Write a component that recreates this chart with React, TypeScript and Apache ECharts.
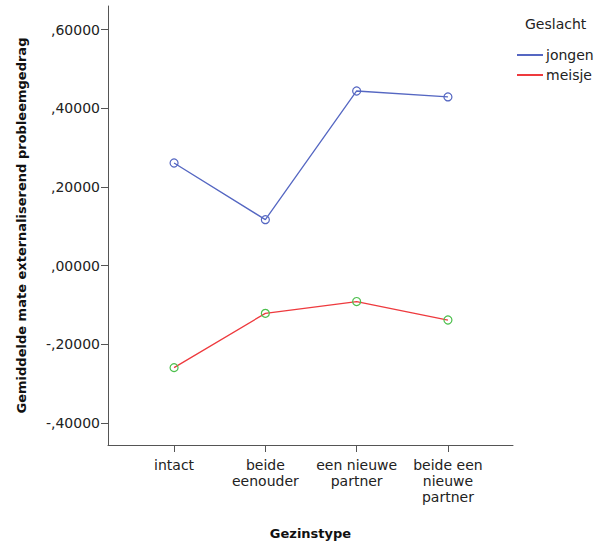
import React, { useEffect, useRef } from "react";
import * as echarts from "echarts";

const categories = ["intact", "beide\neenouder", "een nieuwe\npartner", "beide een\nnieuwe\npartner"];
const jongen = [0.261, 0.117, 0.444, 0.429];
const meisje = [-0.259, -0.121, -0.091, -0.138];
const yTicks = [-0.4, -0.2, 0, 0.2, 0.4, 0.6];
const xTicks = [0, 1, 2, 3];

const FONT = "'DejaVu Sans', sans-serif";
const BLUE = "#5567c2";
const RED = "#ee3a3e";
const GREEN = "#4cbf4c";

function fmt(v: number): string {
  const s = Math.abs(v).toFixed(5).replace(/^0/, "").replace(".", ",");
  return (v < -1e-9 ? "-" : "") + s;
}

export default function App() {
  const ref = useRef<HTMLDivElement>(null);
  useEffect(() => {
    if (!ref.current) return;
    const chart = echarts.init(ref.current, undefined, { renderer: "svg" });
    chart.setOption({
      animation: false,
      backgroundColor: "#ffffff",
      textStyle: { fontFamily: FONT },
      grid: { left: 108, right: 89, top: 6, bottom: 96, containLabel: false, outerBoundsMode: "none" },
      title: {
        text: "Geslacht",
        left: 520,
        top: 12,
        textStyle: { fontFamily: FONT, fontSize: 14, fontWeight: "normal", color: "#222" },
      },
      legend: {
        left: 512,
        top: 43,
        orient: "vertical",
        itemWidth: 26,
        itemHeight: 2,
        itemGap: 6,
        textStyle: { fontFamily: FONT, fontSize: 14, color: "#222", padding: [0, 0, 0, -2] },
        data: [
          { name: "jongen", icon: "rect", itemStyle: { color: BLUE, borderWidth: 0 } },
          { name: "meisje", icon: "rect", itemStyle: { color: RED, borderWidth: 0 } },
        ],
      },
      xAxis: {
        type: "value",
        min: -66 / 91.2,
        max: 3 + 65 / 91.2,
        name: "Gezinstype",
        nameLocation: "middle",
        nameGap: 82,
        nameTextStyle: { fontFamily: FONT, fontSize: 13, fontWeight: "bold", color: "#111" },
        splitLine: { show: false },
        axisLine: { show: true, onZero: false, lineStyle: { color: "#555", width: 1 } },
        axisTick: { show: true, length: 7, customValues: xTicks, lineStyle: { color: "#555" } },
        axisLabel: {
          customValues: xTicks,
          margin: 12,
          fontFamily: FONT,
          fontSize: 14,
          lineHeight: 16,
          color: "#222",
          formatter: (v: number) => categories[Math.round(v)] ?? "",
        },
      },
      yAxis: {
        type: "value",
        min: -0.4556,
        max: 0.66,
        name: "Gemiddelde mate externaliserend probleemgedrag",
        nameLocation: "middle",
        nameGap: 80,
        nameTextStyle: { fontFamily: FONT, fontSize: 13, fontWeight: "bold", color: "#111" },
        splitLine: { show: false },
        axisLine: { show: true, onZero: false, lineStyle: { color: "#555", width: 1 } },
        axisTick: { show: true, length: 7, customValues: yTicks, lineStyle: { color: "#555" } },
        axisLabel: {
          customValues: yTicks,
          margin: 8,
          fontFamily: FONT,
          fontSize: 14,
          color: "#222",
          formatter: (v: number) => fmt(v),
        },
      },
      series: [
        {
          name: "jongen",
          type: "line",
          data: jongen.map((v, i) => [i, v]),
          symbol: "circle",
          symbolSize: 8,
          lineStyle: { color: BLUE, width: 1.3 },
          itemStyle: { color: "rgba(0,0,0,0)", borderColor: BLUE, borderWidth: 1.2 },
        },
        {
          name: "meisje",
          type: "line",
          data: meisje.map((v, i) => [i, v]),
          symbol: "circle",
          symbolSize: 8,
          lineStyle: { color: RED, width: 1.3 },
          itemStyle: { color: "rgba(0,0,0,0)", borderColor: GREEN, borderWidth: 1.2 },
        },
      ],
    });
    return () => chart.dispose();
  }, []);
  return <div ref={ref} style={{ width: 602, height: 541, position: "absolute", left: 0, top: 0 }} />;
}
